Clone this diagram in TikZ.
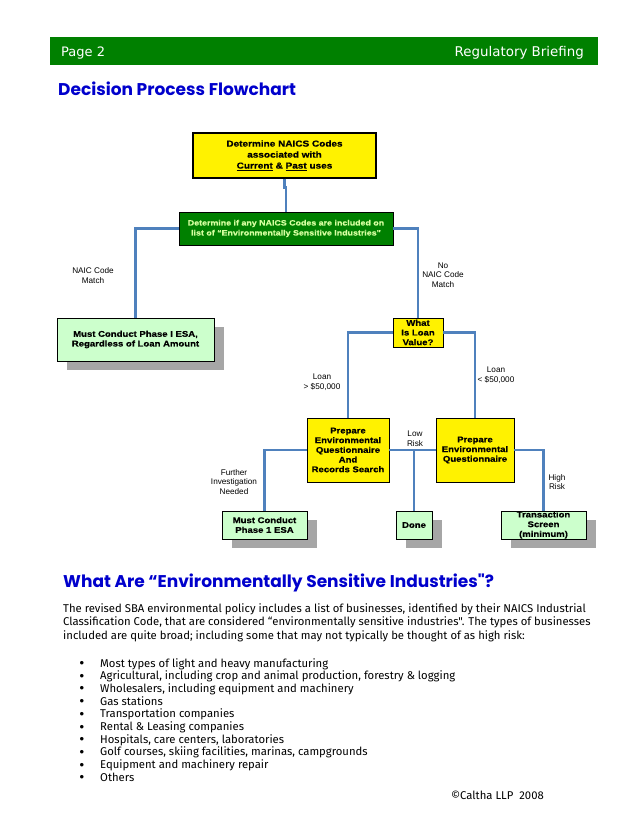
\documentclass[tikz,border=0pt]{standalone}
\usepackage{fontspec}
\setmainfont{Liberation Sans}
\newfontfamily\boxfont[FakeStretch=1.15, FakeBold=0.6]{Liberation Sans Bold}
\newfontfamily\headfont{DejaVu Sans}
\newfontfamily\titlefont{Poppins}
\newfontfamily\bodyfont{Fira Sans}
\usetikzlibrary{arrows.meta, positioning, shadows}

\definecolor{bargreen}{RGB}{0,128,0}
\definecolor{titleblue}{RGB}{0,0,204}
\definecolor{linkblue}{RGB}{79,129,189}
\definecolor{mint}{RGB}{204,255,204}
\definecolor{palelime}{RGB}{214,255,160}
\definecolor{shadowgray}{RGB}{166,166,166}

\tikzset{
  box/.style={draw=black, line width=0.8pt, inner sep=0pt, align=center,
    font=\boxfont\fontsize{8.3}{9.7}\selectfont},
  ybox/.style={box, fill=yellow},
  gbox/.style={box, fill=mint,
    drop shadow={shadow xshift=10pt, shadow yshift=-9pt, fill=shadowgray, opacity=1}},
  link/.style={draw=linkblue, line width=2.6pt},
  lbl/.style={align=center, font=\fontsize{8.2}{9.7}\selectfont},
  body/.style={anchor=base west, inner sep=0pt, font=\bodyfont\fontsize{11.3}{12}\selectfont},
}

\begin{document}
\begin{tikzpicture}[x=1pt, y=-1pt]
  \fill[white] (0,0) rectangle (638,826);
  \useasboundingbox (0,0) rectangle (638,826);

  % page header
  \node (bar) [fill=bargreen, minimum width=548pt, minimum height=28pt, inner sep=0pt] at (324,51) {};
  \node (page) [anchor=base west, inner sep=0pt, white, font=\headfont\fontsize{13}{15}\selectfont] at (61,57) {Page 2};
  \node (brief) [anchor=base east, inner sep=0pt, white, font=\headfont\fontsize{13.4}{15}\selectfont] at (584,57) {Regulatory Briefing};
  \node (title) [anchor=base west, inner sep=0pt, titleblue, font=\titlefont\bfseries\fontsize{17}{20}\selectfont] at (58,95.5) {Decision Process Flowchart};

  % flowchart boxes
  \node (codes) [ybox, line width=1.4pt, minimum width=183pt, minimum height=45pt,
    font=\boxfont\fontsize{8.7}{11}\selectfont] at (284.5,155.5)
    {Determine NAICS Codes\\associated with\\\underline{Current} \& \underline{Past} uses};
  \node (esi) [box, fill=bargreen, text=palelime, minimum width=214pt, minimum height=33pt,
    font=\boxfont\fontsize{7.7}{10}\selectfont] at (286,228.5)
    {Determine if any NAICS Codes are included on\\list of “Environmentally Sensitive Industries"};
  \node (phase1) [gbox, minimum width=157pt, minimum height=43pt] at (135.5,339.5)
    {Must Conduct Phase I ESA,\\Regardless of Loan Amount};
  \node (loan) [ybox, minimum width=50pt, minimum height=29pt] at (418,332.5)
    {What\\Is Loan\\Value?};
  \node (prepA) [ybox, minimum width=82pt, minimum height=64pt] at (348,450)
    {Prepare\\Environmental\\Questionnaire\\And\\Records Search};
  \node (prepB) [ybox, minimum width=78pt, minimum height=64pt] at (475,450)
    {Prepare\\Environmental\\Questionnaire};
  \node (esa) [gbox, minimum width=85pt, minimum height=28pt] at (264.5,525)
    {Must Conduct\\Phase 1 ESA};
  \node (done) [gbox, minimum width=36pt, minimum height=28pt] at (414,525) {Done};
  \node (screen) [gbox, minimum width=85pt, minimum height=28pt] at (543.5,525)
    {Transaction\\Screen\\(minimum)};

  % connectors
  \draw[link] (codes.south) -- ++(0,9) -| (esi.north);
  \draw[link] (esi.west) -| (phase1.north);
  \draw[link] (esi.east) -| (loan.north);
  \draw[link] (loan.west) -| (prepA.north);
  \draw[link] (loan.east) -| (prepB.north);
  \draw[link] (prepA.west) -| (esa.north);
  \draw[link] (prepA.east) -- (prepB.west);
  \draw[link] (done.north) -- (done.north |- prepA.east);
  \draw[link] (prepB.east) -| (screen.north);

  % branch labels
  \node (match) [lbl] at (93,275.5) {NAIC Code\\Match};
  \node (nomatch) [lbl] at (443,275) {No\\NAIC Code\\Match};
  \node (big) [lbl] at (322,382) {Loan\\> \$50,000};
  \node (small) [lbl] at (496,375) {Loan\\< \$50,000};
  \node (low) [lbl] at (415,439) {Low\\Risk};
  \node (further) [lbl] at (234,482) {Further\\Investigation\\Needed};
  \node (high) [lbl] at (557,482) {High\\Risk};

  % text below the chart
  \node (head) [anchor=base west, inner sep=0pt, titleblue, font=\titlefont\bfseries\fontsize{17}{20}\selectfont] at (63,587.5)
    {What Are “Environmentally Sensitive Industries"?};
  \node (para1) [body] at (63,612) {The revised SBA environmental policy includes a list of businesses, identified by their NAICS Industrial};
  \node (para2) [body] at (63,625.5) {Classification Code, that are considered “environmentally sensitive industries". The types of businesses};
  \node (para3) [body] at (63,639) {included are quite broad; including some that may not typically be thought of as high risk:};
  \foreach \item [count=\i from 0] in {Most types of light and heavy manufacturing,
      {Agricultural, including crop and animal production, forestry \& logging},
      {Wholesalers, including equipment and machinery}, Gas stations,
      Transportation companies, Rental \& Leasing companies,
      {Hospitals, care centers, laboratories},
      {Golf courses, skiing facilities, marinas, campgrounds},
      Equipment and machinery repair, Others} {
    \node (dot\i) [body, font=\fontsize{13}{12}\selectfont] at (79.5,667.5+12.7*\i) {\textbullet};
    \node (item\i) [body] at (100,667+12.7*\i) {\item};
  }
  \node (copy) [anchor=base east, inner sep=0pt, font=\bodyfont\fontsize{11.3}{12}\selectfont] at (544,799) {©Caltha LLP\ \ 2008};
\end{tikzpicture}
\end{document}
